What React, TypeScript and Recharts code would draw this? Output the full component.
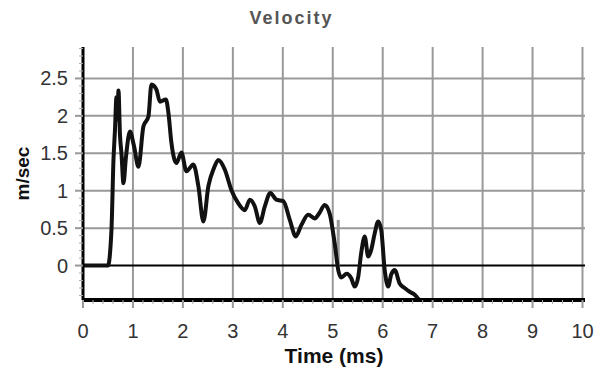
import { LineChart, Line, XAxis, YAxis, ReferenceLine, Label } from "recharts";

const times = [
  0, 0.5, 0.57, 0.61, 0.64, 0.67, 0.69, 0.71, 0.74, 0.77, 0.81, 0.86, 0.94, 1.02, 1.11, 1.21, 1.31,
  1.37, 1.47, 1.54, 1.66, 1.71, 1.77, 1.87, 1.97, 2.07, 2.21, 2.31, 2.41, 2.51, 2.62, 2.71, 2.84,
  2.97, 3.11, 3.24, 3.34, 3.44, 3.54, 3.64, 3.75, 3.87, 4.01, 4.14, 4.26, 4.37, 4.51, 4.64, 4.73,
  4.84, 4.94, 5.04, 5.11, 5.17, 5.28, 5.37, 5.44, 5.51, 5.57, 5.64, 5.71, 5.77, 5.84, 5.91, 5.97,
  6.04, 6.11, 6.17, 6.24, 6.34, 6.44, 6.54, 6.64, 6.73,
];
const velocity = [
  0, 0, 0.48, 1.41, 1.81, 2.25, 1.95, 2.34, 1.75, 1.5, 1.1, 1.45, 1.79, 1.6, 1.32, 1.86, 1.99,
  2.42, 2.35, 2.19, 2.22, 2.04, 1.64, 1.37, 1.51, 1.26, 1.35, 1.06, 0.59, 1.06, 1.3, 1.41, 1.28,
  1.01, 0.83, 0.74, 0.88, 0.79, 0.57, 0.79, 0.97, 0.88, 0.86, 0.61, 0.39, 0.54, 0.68, 0.63, 0.7,
  0.81, 0.69, 0.29, -0.06, -0.16, -0.11, -0.17, -0.28, -0.15, 0.17, 0.39, 0.12, 0.21, 0.43, 0.59, 0.48,
  -0.06, -0.28, -0.12, -0.06, -0.24, -0.3, -0.35, -0.39, -0.46,
];

const xMajorTicks = [0, 1, 2, 3, 4, 5, 6, 7, 8, 9, 10];
const yMajorTicks = [0, 0.5, 1, 1.5, 2, 2.5];
const xGrid = [1, 2, 3, 4, 5, 6, 7, 8, 9, 10];
const yGrid = [0.5, 1, 1.5, 2, 2.5];

const data = times.map((t, i) => ({ t, v: velocity[i] }));

// minor tick marks: 0.2 ms on x, 0.1 m/sec on y
const xTicks = Array.from({ length: 51 }, (_, i) => Math.round(i * 2) / 10);
const yTicks = Array.from({ length: 34 }, (_, i) => Math.round(i - 4) / 10);

const font = "Arial, 'Liberation Sans', Helvetica, sans-serif";

const XTick = ({ x, y, payload }: any) => {
  const major = xMajorTicks.includes(payload.value);
  if (!major) {
    return <line x1={x} y1={y} x2={x} y2={y + 4} stroke="#aaa" strokeWidth={1} />;
  }
  return (
    <g>
      <line x1={x} y1={y} x2={x} y2={y + 8} stroke="#999" strokeWidth={2} />
      <text x={x} y={y + 31} textAnchor="middle" dominantBaseline="central" fontSize={20} fill="#333" fontFamily={font}>
        {payload.value}
      </text>
    </g>
  );
};

const YTick = ({ x, y, payload }: any) => {
  const major = yMajorTicks.includes(payload.value);
  if (!major) {
    return <line x1={x} y1={y} x2={x - 4} y2={y} stroke="#aaa" strokeWidth={1} />;
  }
  return (
    <g>
      <line x1={x} y1={y} x2={x - 8} y2={y} stroke="#999" strokeWidth={2} />
      <text x={x - 15} y={y} textAnchor="end" dominantBaseline="central" fontSize={20} fill="#333" fontFamily={font}>
        {payload.value}
      </text>
    </g>
  );
};

export default function App() {
  return (
    <div style={{ position: "absolute", left: 0, top: 0, width: 609, height: 370, background: "#fff" }}>
      <div
        style={{
          position: "absolute",
          left: 0,
          width: 583,
          top: 8,
          textAlign: "center",
          fontFamily: font,
          fontWeight: "bold",
          fontSize: 18,
          letterSpacing: 2,
          color: "#555",
        }}
      >
        Velocity
      </div>
      <LineChart width={609} height={370} data={data} margin={{ top: 47, right: 24, bottom: 0, left: 0 }}>
        <XAxis
          dataKey="t"
          type="number"
          domain={[0, 10.05]}
          ticks={xTicks}
          interval={0}
          tickSize={0}
          tickMargin={0}
          tickLine={false}
          tick={<XTick />}
          axisLine={{ stroke: "#000", strokeWidth: 4 }}
          height={70}
        >
          <Label
            content={({ viewBox }: any) => (
              <text
                x={viewBox.x + viewBox.width / 2}
                y={viewBox.y + 55}
                textAnchor="middle"
                dominantBaseline="central"
                fontSize={21}
                fontWeight="bold"
                fill="#111"
                fontFamily={font}
              >
                Time (ms)
              </text>
            )}
          />
        </XAxis>
        <YAxis
          type="number"
          domain={[-0.46, 2.92]}
          ticks={yTicks}
          interval={0}
          tickSize={0}
          tickMargin={0}
          tickLine={false}
          tick={<YTick />}
          axisLine={{ stroke: "#000", strokeWidth: 3 }}
          width={83}
        >
          <Label
            content={({ viewBox }: any) => (
              <text
                x={22}
                y={viewBox.y + viewBox.height / 2}
                transform={`rotate(-90 22 ${viewBox.y + viewBox.height / 2})`}
                textAnchor="middle"
                dominantBaseline="central"
                fontSize={19}
                fontWeight="bold"
                fill="#111"
                fontFamily={font}
              >
                m/sec
              </text>
            )}
          />
        </YAxis>
        {xGrid.map((g) => (
          <ReferenceLine key={`x${g}`} x={g} stroke="#999" strokeWidth={2} />
        ))}
        {yGrid.map((g) => (
          <ReferenceLine key={`y${g}`} y={g} stroke="#999" strokeWidth={2} />
        ))}
        <ReferenceLine y={0} stroke="#000" strokeWidth={2} />
        <ReferenceLine
          segment={[
            { x: 5.11, y: 0.61 },
            { x: 5.11, y: -0.02 },
          ]}
          stroke="#999"
          strokeWidth={3}
        />
        <Line
          type="monotone"
          dataKey="v"
          stroke="#111"
          strokeWidth={4}
          strokeLinejoin="round"
          dot={false}
          isAnimationActive={false}
        />
      </LineChart>
    </div>
  );
}
